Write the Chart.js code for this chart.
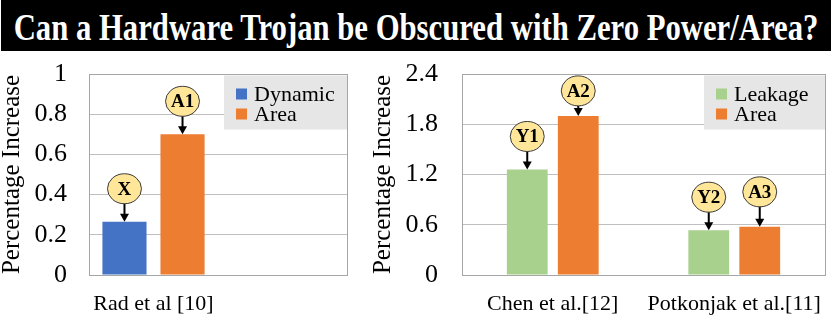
<!DOCTYPE html>
<html>
<head>
<meta charset="utf-8">
<script src="https://cdn.jsdelivr.net/npm/chart.js@4.4.0/dist/chart.umd.min.js"></script>
<style>
body{margin:0;background:#fff;width:831px;height:316px;overflow:hidden;position:relative;}
#title_bar{position:absolute;left:1px;top:0;width:830px;height:51px;background:#000;overflow:hidden;}
#title_bar span{position:absolute;left:50%;top:8px;white-space:nowrap;color:#fff;
  font:bold 37px 'Liberation Serif','Times New Roman',serif;line-height:40px;
  transform:translateX(-50%) scaleX(0.83);transform-origin:center;}
#left_chart{position:absolute;left:0;top:52px;}
#right_chart{position:absolute;left:360px;top:52px;}
</style>
</head>
<body>
<div id="title_bar"><span>Can a Hardware Trojan be Obscured with Zero Power/Area?</span></div>
<canvas id="left_chart" width="355" height="264"></canvas>
<canvas id="right_chart" width="471" height="264"></canvas>
<script>
// datos de las graficas
let left_categories = ['Rad et al [10]', ''];
let dynamic_values = [0.265, null];
let left_area_values = [0.7, null];
let dynamic_tags = ['X', null];
let left_area_tags = ['A1', null];
let left_tick_values = [0, 0.2, 0.4, 0.6, 0.8, 1];
let left_tick_labels = ['0', '0.2', '0.4', '0.6', '0.8', '1'];

let right_categories = ['Chen et al.[12]', 'Potkonjak et al.[11]'];
let leakage_values = [1.26, 0.535];
let right_area_values = [1.9, 0.575];
let leakage_tags = ['Y1', 'Y2'];
let right_area_tags = ['A2', 'A3'];
let right_tick_values = [0, 0.6, 1.2, 1.8, 2.4];
let right_tick_labels = ['0', '0.6', '1.2', '1.8', '2.4'];

const SERIF = "'Liberation Serif','Times New Roman',serif";
const BLUE = '#4472C4', ORANGE = '#ED7D31', GREEN = '#A9D18E';

// caja del area de dibujo
const frameBox = {
    id: 'frameBox',
    beforeDatasetsDraw(chart) {
        const {ctx, chartArea} = chart;
        ctx.save();
        ctx.strokeStyle = '#a6a6a6';
        ctx.lineWidth = 1;
        ctx.strokeRect(Math.round(chartArea.left) + 0.5, Math.round(chartArea.top) + 0.5,
            Math.round(chartArea.width), Math.round(chartArea.height));
        ctx.restore();
    }
};

// globos amarillos con flecha
const tagBubbles = {
    id: 'tagBubbles',
    afterDatasetsDraw(chart, args, opts) {
        const ctx = chart.ctx;
        chart.data.datasets.forEach((ds, di) => {
            const meta = chart.getDatasetMeta(di);
            (ds.tags || []).forEach((tag, i) => {
                if (!tag) return;
                const bar = meta.data[i];
                const gap = (opts.gaps && opts.gaps[tag]) || opts.gap;
                const cx = bar.x, cy = bar.y - gap;
                ctx.save();
                ctx.strokeStyle = '#000';
                ctx.fillStyle = '#000';
                ctx.lineWidth = 2;
                ctx.beginPath();
                ctx.moveTo(cx, cy + 14);
                ctx.lineTo(cx, bar.y - 7);
                ctx.stroke();
                ctx.beginPath();
                ctx.moveTo(cx - 4.5, bar.y - 8);
                ctx.lineTo(cx + 4.5, bar.y - 8);
                ctx.lineTo(cx, bar.y);
                ctx.closePath();
                ctx.fill();
                ctx.beginPath();
                ctx.ellipse(cx, cy, 17, 15, 0, 0, Math.PI * 2);
                ctx.fillStyle = '#FFE699';
                ctx.fill();
                ctx.lineWidth = 1;
                ctx.strokeStyle = '#3a3a3a';
                ctx.stroke();
                ctx.fillStyle = '#000';
                ctx.font = 'bold 19px ' + SERIF;
                ctx.textAlign = 'center';
                ctx.textBaseline = 'middle';
                ctx.fillText(tag, cx, cy + 1);
                ctx.restore();
            });
        });
    }
};

// leyenda gris dentro del area
const boxLegend = {
    id: 'boxLegend',
    afterDraw(chart, args, opts) {
        const {ctx, chartArea} = chart;
        const x = chartArea.right - opts.width, y = chartArea.top + 1.5;
        ctx.save();
        ctx.fillStyle = '#E7E6E6';
        ctx.fillRect(x, y, opts.width, 54);
        chart.data.datasets.forEach((ds, i) => {
            const ry = y + 18.5 + i * 20;
            ctx.fillStyle = ds.backgroundColor;
            ctx.fillRect(x + 12, ry - 5.5, 11, 11);
            ctx.fillStyle = '#000';
            ctx.font = '22px ' + SERIF;
            ctx.textAlign = 'left';
            ctx.textBaseline = 'middle';
            ctx.fillText(ds.label, x + 30, ry + 1);
        });
        ctx.restore();
    }
};

let makeChart = (id, categories, datasets, tickValues, tickLabels, o) => {
    return new Chart(document.getElementById(id), {
        type: 'bar',
        data: {labels: categories, datasets: datasets},
        plugins: [frameBox, tagBubbles, boxLegend],
        options: {
            responsive: false,
            animation: false,
            devicePixelRatio: 1,
            layout: {padding: {top: 22, right: o.padRight, left: 0, bottom: 0}},
            datasets: {bar: {categoryPercentage: o.catPct, barPercentage: o.barPct}},
            plugins: {
                legend: {display: false},
                tooltip: {enabled: false},
                tagBubbles: {gap: 33, gaps: o.gaps || {}},
                boxLegend: {width: o.legendWidth}
            },
            scales: {
                x: {
                    grid: {display: false},
                    border: {display: false},
                    ticks: {color: '#000', font: {family: SERIF, size: 22}, padding: o.xPad, maxRotation: 0, autoSkip: false},
                    afterFit: s => { s.height = 41; }
                },
                y: {
                    min: 0,
                    max: tickValues[tickValues.length - 1],
                    grid: {color: '#bfbfbf', drawTicks: false},
                    border: {display: false},
                    afterBuildTicks: s => { s.ticks = tickValues.map(v => ({value: v})); },
                    ticks: {color: '#000', font: {family: SERIF, size: 26}, padding: o.yPad,
                        callback: (v, i) => tickLabels[i]},
                    title: {display: true, text: 'Percentage Increase', color: '#000',
                        font: {family: SERIF, size: 25, lineHeight: 1}, padding: {top: o.titlePad, bottom: 0}},
                    afterFit: s => { s.width = o.axisWidth; s.paddingTop = 0; s.paddingBottom = 0; }
                }
            }
        }
    });
};

makeChart('left_chart', left_categories, [
    {label: 'Dynamic', data: dynamic_values, backgroundColor: BLUE, tags: dynamic_tags},
    {label: 'Area', data: left_area_values, backgroundColor: ORANGE, tags: left_area_tags}
], left_tick_values, left_tick_labels,
    {padRight: 8, catPct: 0.9, barPct: 0.76, legendWidth: 123, axisWidth: 89, yPad: 22, xPad: 8, titlePad: 0});

makeChart('right_chart', right_categories, [
    {label: 'Leakage', data: leakage_values, backgroundColor: GREEN, tags: leakage_tags},
    {label: 'Area', data: right_area_values, backgroundColor: ORANGE, tags: right_area_tags}
], right_tick_values, right_tick_labels,
    {padRight: 6, catPct: 0.562, barPct: 0.8, legendWidth: 121, axisWidth: 102, yPad: 24, xPad: 8, titlePad: 11,
     gaps: {A2: 25, A3: 35}});
</script>
</body>
</html>
